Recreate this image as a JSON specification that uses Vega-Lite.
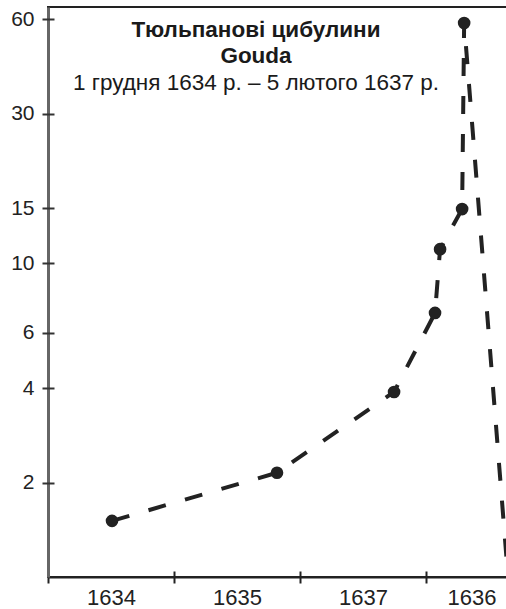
{
  "$schema": "https://vega.github.io/schema/vega-lite/v6.json",
  "width": 460,
  "height": 570,
  "autosize": {"type": "none"},
  "padding": {"left": 48, "top": 7, "right": 0, "bottom": 32},
  "background": "white",
  "config": {
    "view": {"stroke": "#222", "strokeWidth": 2},
    "font": "Liberation Sans",
    "axis": {"grid": false, "title": null}
  },
  "title": {
    "text": ["Тюльпанові цибулини", "Gouda"],
    "subtitle": "1 грудня 1634 р. – 5 лютого 1637 р.",
    "anchor": "middle",
    "frame": "group",
    "offset": -87,
    "dx": -22,
    "font": "Liberation Sans",
    "fontSize": 22.5,
    "fontWeight": "bold",
    "color": "#1a1a1a",
    "lineHeight": 26,
    "subtitleFont": "Liberation Sans",
    "subtitleFontSize": 22.5,
    "subtitleColor": "#1a1a1a",
    "subtitleLineHeight": 26,
    "subtitlePadding": 4
  },
  "data": {
    "values": [
      {"t": 0.508, "price": 1.51, "observed": true},
      {"t": 1.817, "price": 2.15, "observed": true},
      {"t": 2.746, "price": 3.89, "observed": true},
      {"t": 3.071, "price": 6.95, "observed": true},
      {"t": 3.111, "price": 11.1, "observed": true},
      {"t": 3.286, "price": 14.9, "observed": true},
      {"t": 3.302, "price": 58.4, "observed": true},
      {"t": 3.65, "price": 1.0, "observed": false}
    ]
  },
  "layer": [
    {
      "mark": {"type": "line", "strokeDash": [18, 20], "strokeWidth": 4, "color": "#222", "clip": true},
      "encoding": {
        "x": {
          "field": "t", "type": "quantitative",
          "scale": {"domain": [0, 3.65], "nice": false, "zero": false},
          "axis": {
            "orient": "bottom",
            "values": [0.5, 1.5, 2.5, 3.36],
            "labelExpr": "datum.value < 1 ? '1634' : datum.value < 2 ? '1635' : datum.value < 3 ? '1637' : '1636'",
            "ticks": false,
            "domain": true,
            "domainColor": "#222",
            "domainWidth": 2,
            "labelPadding": 10,
            "labelFont": "Liberation Sans",
            "labelFontSize": 22,
            "labelColor": "#222",
            "labelFlush": false,
            "labelOverlap": false
          }
        },
        "y": {
          "field": "price", "type": "quantitative",
          "scale": {"type": "log", "domain": [1, 65.7], "nice": false, "zero": false},
          "axis": {
            "orient": "left",
            "values": [2, 4, 6, 10, 15, 30, 60],
            "ticks": false,
            "domain": true,
            "domainColor": "#666",
            "domainWidth": 3,
            "labelPadding": 14,
            "labelFont": "Liberation Sans",
            "labelFontSize": 21,
            "labelColor": "#222",
            "labelOverlap": false,
            "labelFlush": false
          }
        }
      }
    },
    {
      "transform": [{"filter": "datum.observed"}],
      "mark": {"type": "circle", "size": 160, "color": "#222", "opacity": 1},
      "encoding": {
        "x": {
          "field": "t", "type": "quantitative",
          "axis": {
            "orient": "bottom",
            "values": [0, 1, 2, 3],
            "labels": false,
            "domain": false,
            "ticks": true,
            "tickSize": 12,
            "tickWidth": 2,
            "tickColor": "#222",
            "offset": -6
          }
        },
        "y": {
          "field": "price", "type": "quantitative",
          "axis": {
            "orient": "left",
            "values": [2, 4, 6, 10, 15, 30, 60],
            "labels": false,
            "domain": false,
            "ticks": true,
            "tickSize": 12,
            "tickWidth": 2,
            "tickColor": "#333",
            "offset": -6
          }
        }
      }
    }
  ],
  "resolve": {"axis": {"x": "independent", "y": "independent"}}
}
